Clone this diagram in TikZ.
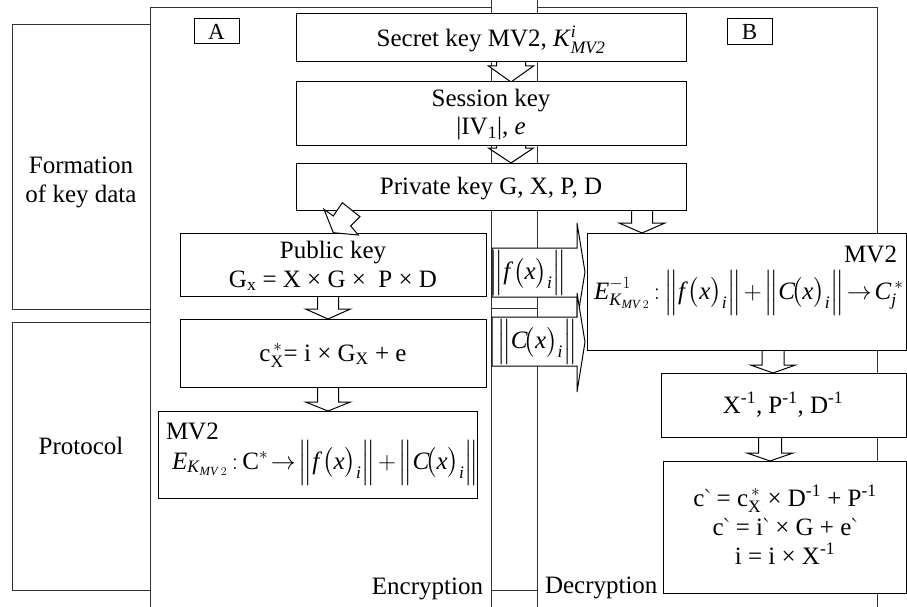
\documentclass[tikz,border=0pt]{standalone}
\usepackage{amsmath}
\usepackage{fontspec}
\setmainfont{Liberation Serif}
\newcommand\myit[1]{\text{\textit{#1}}}
\newcommand\myrm[1]{\text{#1}}
\newcommand\grv{\kern-1.5pt{\usefont{OT1}{cmr}{m}{n}\char18}\kern-4pt}
\newcommand\fnorm{\Big\|\myit{f}\big(\myit{x}\big)_{\myit{i}}\Big\|}
\newcommand\cnorm{\Big\|\myit{C}\!\big(\myit{x}\big)_{\myit{i}}\Big\|}
\newcommand\tightmath{\thickmuskip=2mu\medmuskip=2mu}
\newcommand\hollowdown[6]{%
  \draw[harrow] ({#1-#5},{#2}) -- ({#1-#5},{#3}) -- ({#1-#6},{#3}) -- ({#1},{#4}) -- ({#1+#6},{#3}) -- ({#1+#5},{#3}) -- ({#1+#5},{#2});}
\tikzset{
  panel/.style={draw=black!80, line width=0.8pt},
  sidebox/.style={draw=black!80, line width=0.8pt, inner sep=0pt, outer sep=0pt},
  box/.style={draw=black, fill=white, line width=1pt, inner sep=0pt, outer sep=0pt},
  txt/.style={inner sep=0pt, outer sep=0pt},
  harrow/.style={draw=black, fill=white, line width=1pt, line join=miter},
}
\begin{document}
\begin{tikzpicture}[x=1pt,y=-1pt,font=\fontsize{25}{29}\selectfont]
\useasboundingbox (0,0) rectangle (907,607);
% side boxes
\node[sidebox, minimum width=138pt, minimum height=285pt] (formation) at (81,166.5) {};
\node[sidebox, minimum width=138pt, minimum height=268pt] (protocol) at (81,456) {};
\node[txt, anchor=base] (form1) at (81,173) {Formation};
\node[txt, anchor=base] (form2) at (81,202) {of key data};
\node[txt, anchor=base] (prot) at (81,454) {Protocol};
% panels
\draw[panel] (491,0) -- (491,607);
\draw[panel] (537,0) -- (537,607);
\draw[panel] (491,7) -- (150,7) -- (150,607);
\draw[panel] (537,7) -- (877,7) -- (877,607);
\draw[panel] (491,308) -- (537,308);
\draw[panel] (491,590) -- (537,590);
% big transfer arrows
\draw[harrow] (492,248) -- (577,248) -- (577,223) -- (585,272) -- (577,321) -- (577,297) -- (492,297) -- cycle;
\draw[harrow] (492,317) -- (577,317) -- (577,293) -- (585,342) -- (577,392) -- (577,366) -- (492,366) -- cycle;
\node[txt] (fx) at (528,273) {$\fnorm$};
\node[txt] (cx) at (537,342) {$\cnorm$};
% hollow down arrows
\hollowdown{511}{62}{66}{82}{14.5}{22.5}
\hollowdown{511}{145}{148}{163}{14.5}{22.5}
\hollowdown{642}{210}{223}{233}{10.5}{23}
\hollowdown{328}{296}{309}{319}{10.5}{22.5}
\hollowdown{328}{387}{402}{411}{10.5}{22.5}
\hollowdown{773}{350}{365}{373}{11}{22.5}
\hollowdown{770}{437}{453}{461}{11.5}{23}
% boxes
\node[box, minimum width=45pt, minimum height=25pt, font=\fontsize{23}{26}\selectfont] (boxA) at (216.5,31.5) {A};
\node[box, minimum width=45pt, minimum height=26pt, font=\fontsize{23}{26}\selectfont] (boxB) at (749.5,32) {B};
\node[box, minimum width=390pt, minimum height=48pt] (secret) at (491,38) {};
\node[box, minimum width=390pt, minimum height=63pt] (session) at (491,113.5) {};
\node[box, minimum width=390pt, minimum height=47pt] (private) at (491,186.5) {};
\node[box, minimum width=306pt, minimum height=63pt] (public) at (333,264.5) {};
\node[box, minimum width=306pt, minimum height=68pt] (cxstar) at (333,353) {};
\node[box, minimum width=319pt, minimum height=87pt] (enc) at (317.5,454.5) {};
\node[box, minimum width=319pt, minimum height=117pt] (dec) at (746.5,291.5) {};
\node[box, minimum width=245pt, minimum height=64pt] (xinv) at (783.5,405) {};
\node[box, minimum width=243pt, minimum height=132pt] (cprime) at (784.5,527) {};
% diagonal arrow
\draw[harrow] (324,209.3) -- (333.3,216) -- (342.3,202.7) -- (360,216.7) -- (350.7,226) -- (358.3,235) -- (333.3,232.7) -- cycle;
% texts
\node[txt, anchor=base] (secrett) at (491,47) {Secret key MV2, \myit{K}$^{\myit{i}}_{\myit{MV2}}$};
\node[txt, anchor=base] (sess1) at (491,107) {Session key};
\node[txt, anchor=base] (sess2) at (491,135) {|IV$_{\text{1}}$|, \textit{e}};
\node[txt, anchor=base] (privt) at (491,194) {Private key G, X, P, D};
\node[txt, anchor=base] (pub1) at (333,258) {Public key};
\node[txt, anchor=base] (pub2) at (333,287) {G$_{\text{x}}$ = X × G × ~P × D};
\node[txt, anchor=base] (cxt) at (333,361) {c$_{\text{X}}^{\,*}$= i × G$_{\text{X}}$ + e};
\node[txt, anchor=base west] (enc1) at (166,439) {MV2};
\node[txt, anchor=base west] (enc2) at (172,469) {$\tightmath\myit{E}_{\myit{K}_{\myit{MV}\,2}}\,{:}\,\myrm{C}^{*}\rightarrow\fnorm+\cnorm$};
\node[txt, anchor=base east] (dec1) at (897,262) {MV2};
\node[txt, anchor=base west] (dec2) at (594,299) {$\tightmath\myit{E}^{-1}_{\myit{K}_{\myit{MV}\,2}}\,{:}\,\fnorm+\cnorm\rightarrow\myit{C}_{\myit{j}}^{\,*}$};
\node[txt, anchor=base] (xinvt) at (783,413) {X$^{\text{-1}}$, P$^{\text{-1}}$, D$^{\text{-1}}$};
\node[txt, anchor=base] (cp1) at (785,506) {c\grv{} = c$_{\text{X}}^{\,*}$ × D$^{\text{-1}}$ + P$^{\text{-1}}$};
\node[txt, anchor=base] (cp2) at (785,535) {c\grv{} = i\grv{} × G + e\grv};
\node[txt, anchor=base] (cp3) at (785,564) {i = i × X$^{\text{-1}}$};
\node[txt, anchor=base east] (encl) at (483,594) {Encryption};
\node[txt, anchor=base west] (decl) at (545,593) {Decryption};
\end{tikzpicture}
\end{document}
